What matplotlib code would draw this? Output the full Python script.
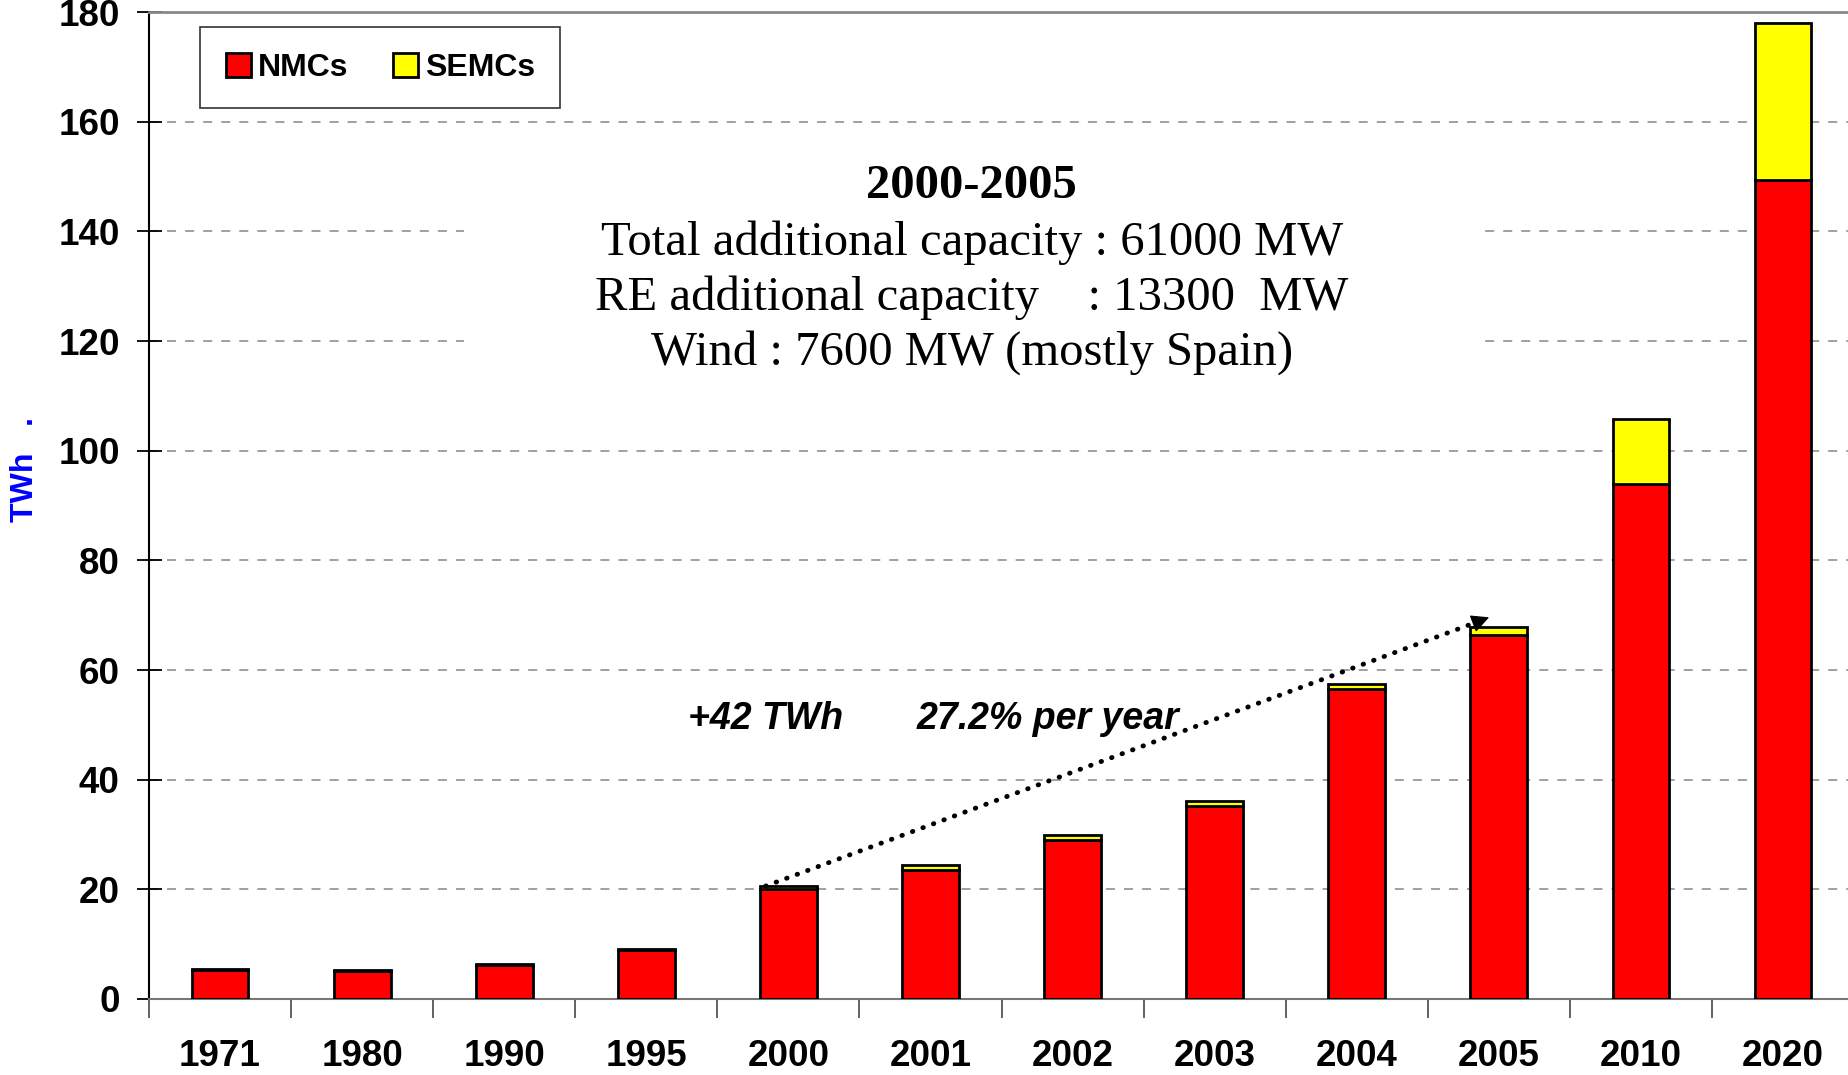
import matplotlib.pyplot as plt
from matplotlib.patches import Rectangle
import numpy as np

years = ['1971', '1980', '1990', '1995', '2000', '2001', '2002', '2003', '2004', '2005', '2010', '2020']
nmcs = [5.2, 5.1, 6.2, 8.9, 20.0, 23.6, 29.0, 35.2, 56.5, 66.4, 94.0, 149.3]
semcs = [0.2, 0.2, 0.2, 0.3, 0.6, 0.8, 0.9, 0.9, 0.9, 1.5, 11.7, 28.7]

# growth arrow 2000 -> 2005
arrow_start = (3.84, 20.6)
arrow_end = (8.95, 69.8)

title_lines = ['Total additional capacity : 61000 MW',
               'RE additional capacity    : 13300  MW',
               'Wind : 7600 MW (mostly Spain)']

sans = ['Liberation Sans', 'DejaVu Sans']
serif = ['Liberation Serif', 'DejaVu Serif']

fig = plt.figure(figsize=(18.48, 10.75), dpi=100)
ax = fig.add_axes([0.0806, 0.0707, 0.9227, 0.918])

x = np.arange(len(years))
ax.bar(x, nmcs, width=0.4, color='#ff0000', edgecolor='black', linewidth=2, label='NMCs', zorder=3)
ax.bar(x, semcs, width=0.4, bottom=nmcs, color='#ffff00', edgecolor='black', linewidth=2, label='SEMCs', zorder=3)

ax.set_xlim(-0.5, len(years) - 0.5)
ax.set_ylim(0, 180)
ax.set_yticks(range(0, 181, 20))
ax.yaxis.grid(True, color='#999999', linestyle=(0, (5, 5)), linewidth=1.3, zorder=0)
ax.set_axisbelow(True)

# category boundaries as major ticks, labels on minor ticks
ax.set_xticks(np.arange(-0.5, len(years), 1.0))
ax.set_xticklabels([])
ax.set_xticks(x, minor=True)
ax.set_xticklabels(years, minor=True)
ax.tick_params(axis='x', which='major', direction='out', length=14, width=1.3, color='#555555')
ax.tick_params(axis='x', which='minor', length=0, pad=29)
ax.tick_params(axis='y', direction='inout', length=18, width=1.3, pad=12)
for lab in ax.get_xticklabels(minor=True) + ax.get_yticklabels():
    lab.set_fontfamily(sans)
    lab.set_fontweight('bold')
    lab.set_fontsize(26.5)

ax.spines['right'].set_visible(False)
ax.spines['top'].set_color('#888888')
ax.spines['top'].set_linewidth(2)
ax.spines['bottom'].set_color('#777777')
ax.spines['bottom'].set_linewidth(1.5)
ax.spines['left'].set_color('black')
ax.spines['left'].set_linewidth(1.5)

ax.set_ylabel('TWh   .', color='#0000ff', fontsize=23, fontweight='bold', family=sans)
ax.yaxis.set_label_coords(-0.064, 0.537)

leg = ax.legend(loc='upper left', bbox_to_anchor=(0.030, 0.985), ncol=2, frameon=True, fancybox=False,
                edgecolor='black', borderaxespad=0, borderpad=0.8, handlelength=0.8, handleheight=0.8,
                handletextpad=0.2, columnspacing=1.4, prop={'family': sans, 'weight': 'bold', 'size': 23})
leg.get_frame().set_linewidth(1.2)

# white block behind the 2000-2005 summary
ax.add_patch(Rectangle((1.72, 110), 7.17, 46, facecolor='white', edgecolor='none', zorder=1))
ax.text(5.29, 148.2, '2000-2005', ha='center', va='center', fontsize=35, fontweight='bold', family=serif, zorder=4)
for i, line in enumerate(title_lines):
    ax.text(5.29, 137.9 - 10 * i, line, ha='center', va='center', fontsize=35, family=serif, zorder=4)

ax.plot([arrow_start[0], arrow_end[0] - 0.1], [arrow_start[1], arrow_end[1] - 1.0], color='black',
        linestyle=(0, (0.1, 2.2)), linewidth=3.5, dash_capstyle='round', zorder=5)
ax.annotate('', xy=arrow_end, xytext=(arrow_end[0] - 0.14, arrow_end[1] - 1.4),
            arrowprops=dict(arrowstyle='-|>,head_length=1.1,head_width=0.55', color='black', lw=1), zorder=5)

ax.text(3.84, 51.0, '+42 TWh', ha='center', va='center', fontsize=27, fontweight='bold', style='italic', family=sans, zorder=5)
ax.text(5.83, 51.0, '27.2% per year', ha='center', va='center', fontsize=27, fontweight='bold', style='italic', family=sans, zorder=5)

fig.savefig('out.png', dpi=100)
